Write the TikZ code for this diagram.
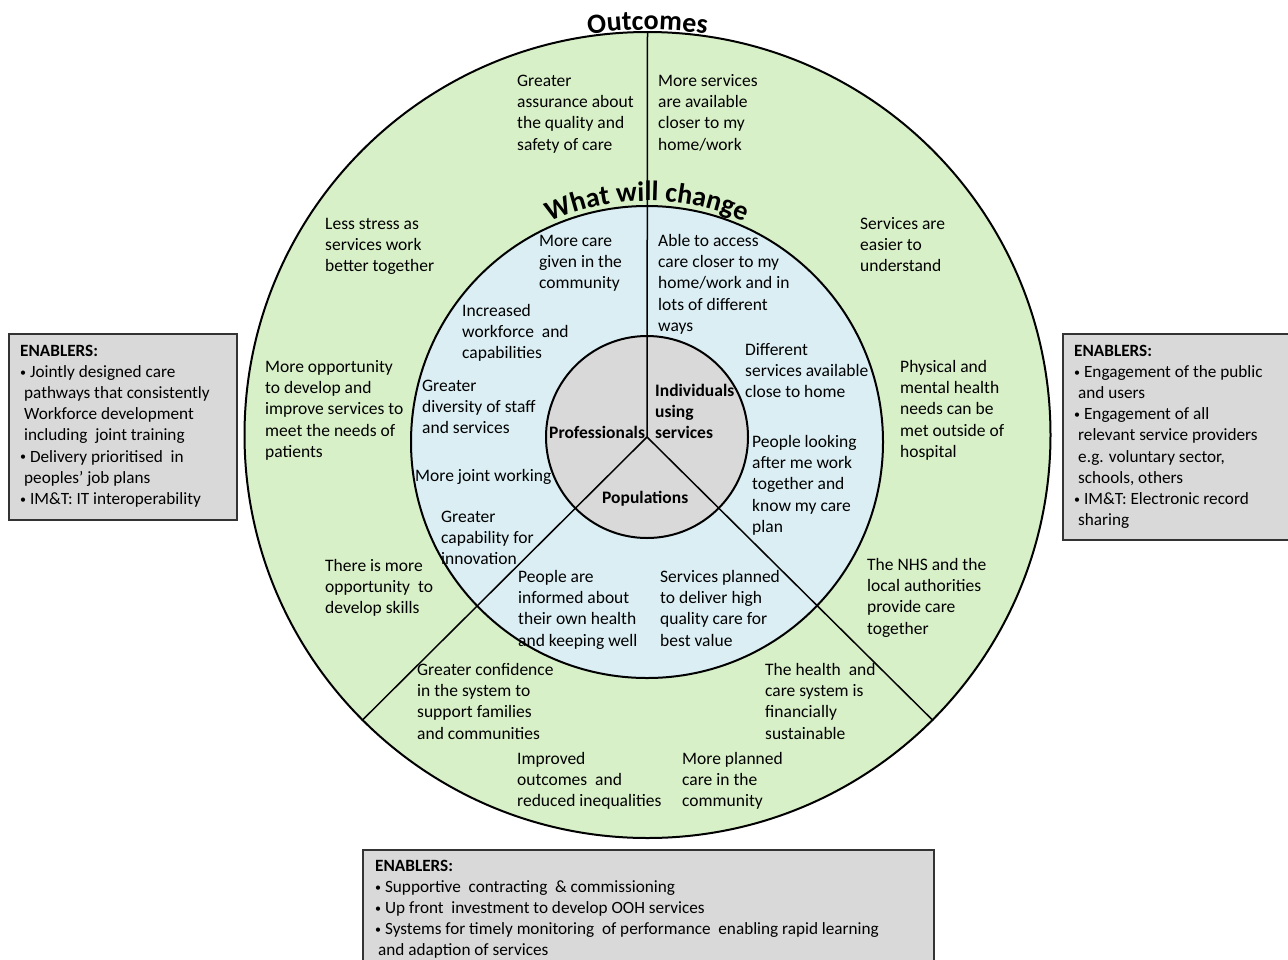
\documentclass[tikz,border=0pt]{standalone}
\usepackage{fontspec}
\setmainfont{Carlito}
\usetikzlibrary{decorations.text}
\definecolor{ringgreen}{RGB}{216,240,200}
\definecolor{ringblue}{RGB}{218,238,243}
\definecolor{coregray}{RGB}{217,217,217}
\definecolor{boxgray}{RGB}{217,217,217}
\newcommand{\bodyfont}{\fontsize{17.5}{21.4}\selectfont}
\newcommand{\enfont}{\fontsize{17.2}{21.2}\selectfont}
\newcommand{\ttlfont}{\bfseries\fontsize{28}{32}\selectfont}
\newcommand{\bul}{\raisebox{1.2pt}{\fontsize{12}{12}\selectfont•}}
\tikzset{
  lbl/.style={anchor=base west, align=left, inner sep=0pt, font=\bodyfont},
  corelbl/.style={anchor=base west, align=left, inner sep=0pt, font=\bfseries\bodyfont},
  entext/.style={anchor=base west, align=left, inner sep=0pt, font=\enfont},
  enbox/.style={draw=black!80, line width=1.5pt, fill=boxgray, anchor=north west, inner sep=0pt, rectangle},
  ring/.style={draw=black, line width=2pt, circle, inner sep=0pt},
  divider/.style={draw=black, line width=1.5pt},
}
\begin{document}
\begin{tikzpicture}[x=1pt,y=-1pt]
\clip (0,0) rectangle (1288,959);
\fill[white] (0,0) rectangle (1288,959);
% rings
\node[ring, fill=ringgreen, minimum size=806pt] (outer) at (647.5,435) {};
\node[ring, fill=ringblue, minimum size=472pt] (mid) at (647,442) {};
\node[ring, fill=coregray, minimum size=202pt] (inner) at (647,437) {};
% dividers
\draw[divider] (inner.center) -- (outer.90);
\draw[divider] (inner.center) -- (outer.-135);
\draw[divider] (inner.center) -- (outer.-45);
% curved titles
\path[decorate, decoration={text along path, text align=center, text={|\ttlfont|Outcomes}}]
  (outer.center) ++(210:405) arc[start angle=210, end angle=330, radius=405];
\path[decorate, decoration={text along path, text align=center, text={|\ttlfont|What will change}}]
  (mid.center) ++(210:241) arc[start angle=210, end angle=330, radius=241];
% outer ring texts (coordinates = baseline of last line)
\node[lbl] (o1) at (517,150.2) {Greater\\assurance about\\the quality and\\safety of care};
\node[lbl] (o2) at (658,150.2) {More services\\are available\\closer to my\\home/work};
\node[lbl] (o3) at (325,271.8) {Less stress as\\services work\\better together};
\node[lbl] (o4) at (860,271.8) {Services are\\easier to\\understand};
\node[lbl] (o5) at (265,457.6) {More opportunity\\to develop and\\improve services to\\meet the needs of\\patients};
\node[lbl] (o6) at (900,457.6) {Physical and\\mental health\\needs can be\\met outside of\\hospital};
\node[lbl] (o7) at (325,613.8) {There is more\\opportunity\ \ to\\develop skills};
\node[lbl] (o8) at (867,634.2) {The NHS and the\\local authorities\\provide care\\together};
\node[lbl] (o9) at (417,739.2) {Greater confidence\\in the system to\\support families\\and communities};
\node[lbl] (o10) at (765,739.2) {The health\ \ and\\care system is\\financially\\sustainable};
\node[lbl] (o11) at (517,806.8) {Improved\\outcomes\ \ and\\reduced inequalities};
\node[lbl] (o12) at (682,806.8) {More planned\\care in the\\community};
% middle ring texts
\node[lbl] (m1) at (539,288.8) {More care\\given in the\\community};
\node[lbl] (m2) at (658,331.6) {Able to access\\care closer to my\\home/work and in\\lots of different\\ways};
\node[lbl] (m3) at (462,358.8) {Increased\\workforce\ \ and\\capabilities};
\node[lbl] (m4) at (745,397.8) {Different\\services available\\close to home};
\node[lbl] (m5) at (422,433.8) {Greater\\diversity of staff\\and services};
\node[lbl] (m6) at (752,532.6) {People looking\\after me work\\together and\\know my care\\plan};
\node[lbl] (m7) at (415,481) {More joint working};
\node[lbl] (m8) at (441,564.8) {Greater\\capability for\\innovation};
\node[lbl] (m9) at (518,646.2) {People are\\informed about\\their own health\\and keeping well};
\node[lbl] (m10) at (660,646.2) {Services planned\\to deliver high\\quality care for\\best value};
% core labels
\node[corelbl] (c1) at (549,438) {Professionals};
\node[corelbl] (c2) at (655,438.8) {Individuals\\using\\services};
\node[corelbl] (c3) at (602,503) {Populations};
% enabler boxes
\node[enbox, minimum width=228pt, minimum height=186pt] (lbox) at (8,333) {};
\node[entext] (ltxt) at (20,504.4) {\textbf{ENABLERS:}\\\bul\ Jointly designed care\\\hspace*{4pt}pathways that consistently\\\hspace*{4pt}Workforce development\\\hspace*{4pt}including\ \ joint training\\\bul\ Delivery prioritised\ \ in\\\hspace*{4pt}peoples’ job plans\\\bul\ IM\&T: IT interoperability};
\node[enbox, minimum width=240pt, minimum height=206pt] (rbox) at (1062,333) {};
\node[entext] (rtxt) at (1074,525.6) {\textbf{ENABLERS:}\\\bul\ Engagement of the public\\\hspace*{4pt}and users\\\bul\ Engagement of all\\\hspace*{4pt}relevant service providers\\\hspace*{4pt}e.g. voluntary sector,\\\hspace*{4pt}schools, others\\\bul\ IM\&T: Electronic record\\\hspace*{4pt}sharing};
\node[enbox, minimum width=571pt, minimum height=130pt] (bbox) at (362,849) {};
\node[entext] (btxt) at (375,955.8) {\textbf{ENABLERS:}\\\bul\ Supportive\ \ contracting\ \ \& commissioning\\\bul\ Up front\ \ investment to develop OOH services\\\bul\ Systems for timely monitoring\ \ of performance\ \ enabling rapid learning\\\hspace*{3pt}and adaption of services};
\end{tikzpicture}
\end{document}
